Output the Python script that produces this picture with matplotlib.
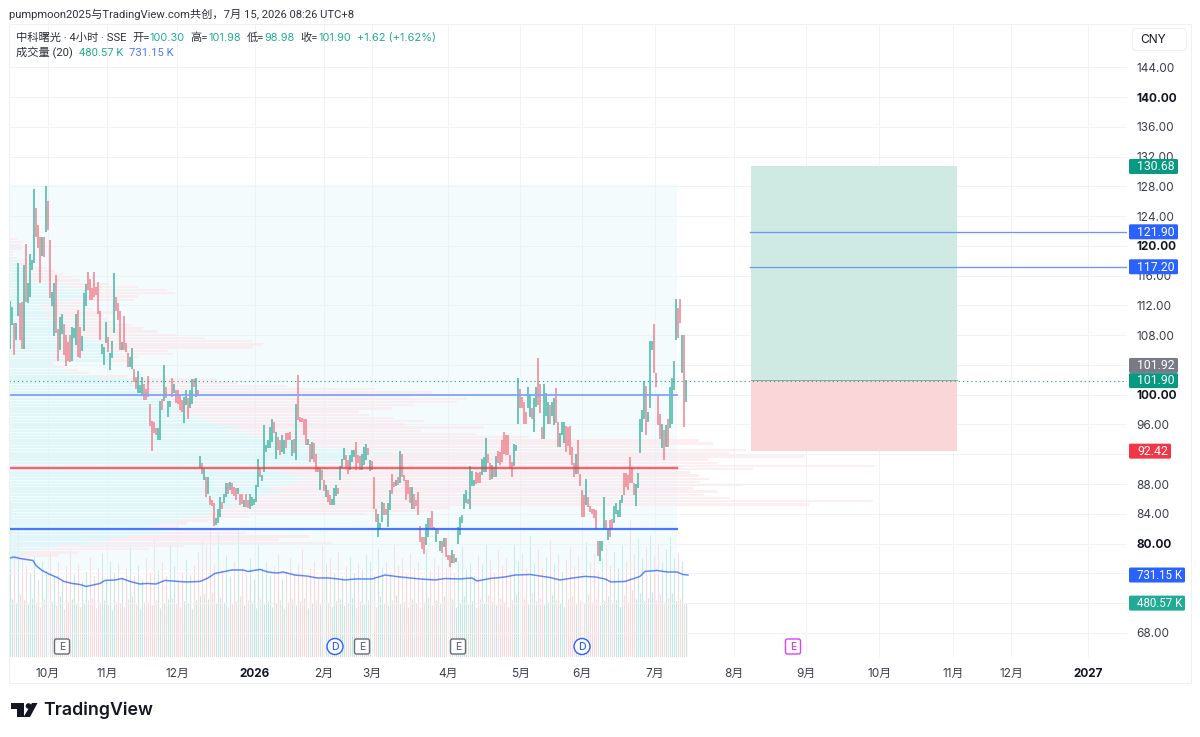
import numpy as np
import matplotlib
matplotlib.use("Agg")
import matplotlib.pyplot as plt
from matplotlib import transforms
from matplotlib.patches import Rectangle, Polygon, Circle, FancyBboxPatch

plt.rcParams['font.family'] = ['Inter', 'Noto Sans CJK SC', 'DejaVu Sans']
text_font = ['Roboto', 'Noto Sans CJK SC', 'DejaVu Sans']

# 4h candles, oldest first
bar_high = [
    112.6, 111.8, 109.6, 109.6, 117.7, 112.3, 112.4, 117.4, 120.3,
    115.0, 118.9, 118.1, 127.6, 125.1, 122.8, 121.2, 121.2, 121.2,
    128.0, 126.0, 120.8, 113.8, 115.0, 116.1, 108.8, 110.5, 110.8,
    109.5, 108.0, 107.1, 108.0, 109.1, 109.0, 110.9, 111.4, 109.1,
    107.9, 113.7, 114.9, 116.5, 115.6, 114.3, 116.5, 114.5, 115.2,
    111.2, 106.8, 106.4, 109.8, 107.8, 105.6, 107.2, 116.4,
    113.2, 112.3, 111.2, 107.1, 110.6, 106.9, 105.6, 105.1, 106.3,
    103.4, 102.4, 103.2, 101.3, 102.4, 101.4, 100.8, 102.5, 98.8,
    96.5, 96.4, 95.5, 95.5, 99.2, 99.4, 104.0, 101.0, 99.2, 99.2,
    102.2, 101.5, 100.6, 100.6, 100.0, 99.3, 99.7, 100.6, 99.5, 100.6,
    102.1, 102.1, 102.2, 100.7, 91.7, 90.8, 90.1, 89.0, 88.9, 86.4,
    85.9, 85.5, 83.4, 84.7, 86.3, 85.6, 86.7, 88.1, 88.2, 88.3,
    88.1, 87.6, 87.4, 87.4, 86.6, 86.6, 85.8, 86.6, 85.8, 86.7, 86.2,
    86.0, 87.9, 91.3, 90.1, 89.2, 95.9, 93.2, 93.9, 95.6, 96.8,
    96.4, 95.0, 94.3, 93.9, 94.6, 93.9, 94.8, 94.8, 95.0, 93.9, 94.0,
    98.7, 102.6, 97.0, 96.9, 96.8, 96.8, 94.1, 93.4, 93.6, 93.5,
    92.1, 90.3, 90.1, 89.9, 88.5, 87.9, 87.2, 86.5, 86.0, 87.4, 87.9,
    87.4, 90.4, 91.4, 92.9, 91.9, 91.2, 91.9, 92.6, 92.6, 93.7,
    91.9, 91.7, 92.1, 93.0, 93.4, 92.9, 91.2, 91.1, 88.9, 84.7,
    84.0, 82.8, 85.6, 85.4, 84.7, 85.4, 87.2, 89.4, 88.3, 88.5, 89.0,
    92.5, 92.0, 89.2, 88.5, 88.5, 87.6, 87.6, 86.7, 85.8, 86.9,
    82.4, 80.9, 80.9, 82.6, 83.4, 83.4, 84.4, 82.2, 82.0, 81.8, 80.4,
    80.4, 80.7, 80.7, 78.4, 78.4, 79.1, 78.6, 78.1, 82.2, 83.6,
    83.8, 86.7, 87.2, 86.0, 90.4, 89.8, 88.5, 89.6, 89.5, 89.6, 91.4,
    91.6, 94.2, 92.0, 90.8, 90.5, 90.3, 91.7, 92.5, 92.3, 93.9, 95.0,
    94.6, 94.6, 91.9, 91.0, 93.4, 93.2, 102.2, 100.8, 99.7, 99.0,
    97.7, 101.0, 100.0, 98.2, 99.5, 101.0, 105.0, 101.5, 95.6, 101.5, 100.2,
    99.0, 98.6, 99.0, 99.5, 100.9, 96.4, 94.8, 96.4, 96.4, 95.8, 95.6,
    95.8, 93.0, 90.8, 92.1, 93.9, 89.4, 87.2, 86.5, 88.7, 86.3,
    85.1, 84.7, 84.6, 84.5, 80.4, 80.4, 80.4, 86.3, 83.1, 82.0, 83.1,
    83.3, 85.1, 85.5, 84.5, 85.8, 86.5, 89.5, 89.5, 89.2, 91.6, 90.2,
    88.1, 88.0, 89.5, 96.7, 97.9, 101.9, 101.2, 97.7, 107.2, 107.2,
    109.5, 102.9, 100.0, 97.4, 96.1, 95.2, 95.9, 96.7,
    101.0, 102.2, 104.6, 112.9, 111.6, 112.9, 108.0, 108.0, 101.98,
]
bar_low = [
    106.2, 109.4, 105.3, 107.4, 110.6, 107.4, 106.2, 106.1, 112.5,
    112.3, 113.2, 116.8, 117.7, 121.2, 119.7, 115.0, 118.6, 118.5,
    121.9, 122.1, 113.0, 111.9, 107.9, 108.3, 104.6, 106.0, 108.2,
    105.3, 103.8, 104.6, 104.4, 104.6, 107.6, 106.7, 105.1, 104.9,
    105.9, 108.5, 111.9, 114.1, 112.8, 112.8, 113.2, 113.4, 110.9,
    107.3, 105.5, 104.0, 106.9, 105.8, 103.3, 104.9, 108.3,
    111.2, 110.0, 106.0, 106.0, 106.0, 105.8, 103.7, 103.7, 103.5,
    101.7, 100.8, 100.2, 100.2, 99.9, 99.3, 99.3, 99.7, 95.8,
    92.5, 94.8, 94.6, 93.9, 93.9, 98.0, 99.2, 99.5, 97.0, 98.4,
    99.7, 100.2, 98.9, 98.8, 98.0, 97.7, 96.2, 98.6, 96.8, 98.2,
    98.8, 101.1, 99.7, 99.9, 90.2, 89.4, 88.5, 86.2, 86.7, 85.2,
    85.0, 82.3, 82.5, 82.7, 83.6, 84.7, 85.4, 86.3, 86.7, 87.2,
    86.7, 86.4, 85.8, 86.7, 85.2, 85.3, 84.9, 84.9, 84.8, 84.6, 85.0,
    85.2, 85.6, 87.6, 88.9, 88.4, 89.6, 92.3, 92.8, 92.8, 93.7,
    94.8, 91.4, 92.6, 91.9, 92.3, 92.1, 92.8, 93.9, 93.9, 91.7, 92.2,
    91.2, 96.6, 96.4, 96.4, 94.6, 93.2, 93.2, 91.0, 91.4, 91.0,
    89.6, 89.6, 87.2, 88.5, 87.0, 86.3, 85.6, 85.2, 85.2, 85.2, 86.4,
    86.7, 88.6, 90.1, 91.2, 90.1, 89.4, 89.9, 91.0, 91.6, 89.9,
    90.8, 89.9, 89.9, 90.5, 91.2, 91.9, 89.8, 89.9, 84.7, 82.9,
    80.9, 82.0, 82.9, 83.8, 83.8, 82.2, 84.5, 86.7, 87.6, 87.7, 87.9,
    88.1, 89.0, 88.4, 85.8, 86.7, 85.4, 84.7, 84.7, 85.1, 83.8,
    80.2, 79.3, 78.6, 79.8, 80.9, 82.0, 81.8, 81.8, 80.2, 81.3, 79.0,
    78.7, 79.5, 78.2, 77.8, 76.9, 77.4, 77.4, 77.5, 79.9, 81.1,
    82.7, 84.6, 85.5, 85.3, 84.6, 87.8, 87.8, 88.0, 88.1, 88.2, 89.2,
    89.6, 89.6, 90.8, 88.6, 88.7, 88.9, 89.0, 90.8, 90.5, 91.0, 92.1,
    91.9, 91.9, 90.2, 89.0, 90.4, 92.5, 96.1, 98.2, 98.2, 96.1,
    96.0, 98.2, 97.0, 96.8, 95.0, 98.4, 98.6, 97.5, 94.1, 94.0, 97.1,
    96.1, 96.1, 97.2, 95.9, 96.2, 93.0, 93.0, 94.6, 93.5, 92.3, 93.1,
    91.9, 90.5, 89.0, 89.4, 89.4, 87.8, 83.6, 83.6, 85.2, 84.9,
    84.3, 84.0, 83.4, 82.0, 78.3, 77.7, 79.0, 82.0, 82.0, 80.5, 80.9,
    82.0, 82.7, 84.0, 83.6, 83.6, 85.4, 86.5, 87.6, 87.2, 88.1, 88.2,
    86.5, 85.0, 87.5, 92.2, 95.0, 96.8, 94.6, 96.4, 98.2, 106.0,
    102.9, 101.0, 95.9, 94.1, 92.8, 91.2, 93.0, 93.0,
    95.5, 96.1, 100.6, 107.4, 107.6, 109.6, 102.9, 95.7, 98.98,
]
bar_dir = (
    "GGRGGRRGR" "GGGGRRRGR" "GRRGGRRGG" "RRRRGGGRR" "GGGRRRRRR"
    "RGGGRGGG" "RRRGRRRGG" "RRGGGRRRR" "RRRGGRGRGG" "RGRRRRGGRG"
    "GRGRGRGRGR" "RRGGGRGGRG" "RRRGRRGRRGG" "GGGRGGGGGG" "RGRRGGRRRGR"
    "GRRRRRGRGR" "RRGRRGRRGGG" "RGGGRRGGGR" "RRGGGRGRRR" "GGGRRGGRRGR"
    "GRRRRRGRRR" "RRRGGRRRGRG" "RGRRRGRGGG" "GGGRGGGRRRG" "GGRRGRGRRRR"
    "RRRRGGGRRR" "RGGRGGRRRGG" "GRGGRRGGGRR" "RRRGRRRRGR" "RRRRRGGGRGR"
    "RGGGGGRRRRR" "RGGGGGRGGG" "RRRRGRGR" "GGGGRRGRG"
)

# volume per bar in thousands, the morning bar of each day runs taller
volumes = [
    1400, 520, 1040, 480, 1160, 560, 880, 510, 820, 470, 760, 530, 900, 490, 700, 450, 860, 520, 780, 480,
    940, 500, 720, 460, 850, 540, 690, 430, 810, 500, 950, 520, 740, 470, 830, 450, 680, 480, 770, 510,
    890, 530, 720, 440, 800, 490, 930, 510, 700, 460, 860, 420, 760, 500, 840, 480, 710, 450, 790, 520,
    980, 540, 730, 470, 820, 430, 690, 490, 880, 500, 750, 460, 1060, 510, 780, 440, 850, 480, 720, 520,
    1010, 530, 810, 470, 690, 450, 760, 500, 870, 480, 730, 430, 820, 510, 940, 540, 1040, 560, 1000, 520,
    1150, 570, 830, 480, 1100, 530, 780, 490, 910, 450, 720, 470, 860, 500, 1130, 540, 800, 460, 740, 510,
    880, 490, 700, 440, 1020, 520, 790, 470, 850, 500, 730, 450, 810, 480, 920, 510, 700, 430, 770, 490,
    880, 520, 740, 460, 830, 500, 960, 530, 720, 440, 790, 480, 860, 510, 710, 470, 1000, 540, 830, 490,
    880, 450, 760, 500, 940, 520, 720, 460, 810, 480, 890, 530, 750, 440, 840, 500, 780, 470, 920, 510,
    860, 490, 730, 450, 970, 540, 800, 480, 850, 460, 760, 510, 1020, 550, 820, 470, 880, 500, 740, 450,
    930, 520, 790, 480, 850, 440, 710, 490, 960, 530, 780, 460, 880, 510, 820, 470, 1040, 540, 800, 490,
    900, 520, 760, 450, 860, 480, 990, 540, 780, 470, 840, 500, 730, 440, 910, 520, 830, 480, 1010, 550,
    870, 500, 760, 460, 950, 530, 820, 490, 880, 450, 770, 510, 1020, 560, 860, 480, 930, 520, 790, 470,
    1080, 570, 840, 500, 960, 530, 790, 460, 890, 490, 1040, 550, 830, 510, 920, 480, 770, 450, 870, 520,
    980, 540, 810, 470, 900, 510, 760, 480, 1030, 560, 850, 490, 930, 520, 780, 460, 880, 500, 1010, 540,
    820, 480, 940, 510, 790, 450, 1000, 550, 860, 490, 1230, 600, 920, 520, 1060, 570, 880, 500, 980, 530,
    1090, 580, 900, 510, 1020, 560, 850, 490, 960, 530, 1070, 570, 880, 500, 940, 520, 860, 480, 480.57,
]

# volume moving average, sampled along the time offset
vol_ma_x = [
    0, 4, 10, 16, 23, 26, 32, 40, 47, 54, 62, 70, 76, 83, 90, 95, 105, 112, 120, 130, 137, 146,
    155, 168, 177, 190, 197, 205, 212, 222, 233, 238, 250, 258, 267, 273, 285, 297, 307, 318, 328,
    335, 345, 362, 375, 390, 410, 425, 435, 450, 462, 467, 480, 495, 505, 520, 540, 550, 563, 575,
    585, 595, 601, 615, 630, 635, 647, 657, 667, 673, 678,
]
vol_ma = [
    883, 892, 879, 870, 861, 816, 772, 736, 710, 674, 656, 647, 629, 642, 656, 683, 687, 700, 674,
    651, 656, 651, 683, 674, 669, 674, 700, 745, 758, 776, 776, 763, 781, 758, 749, 758, 731, 722,
    705, 705, 696, 687, 696, 696, 731, 714, 696, 687, 700, 696, 705, 678, 700, 714, 731, 736, 709,
    687, 705, 719, 714, 696, 669, 674, 719, 763, 772, 758, 758, 736, 731.15,
]

# session volume profile, rows run downward from the top price
profile_top = 122.67
profile_step = 0.43
profile_total = [
    2, 0, 0, 0, 8, 14, 11, 13, 4, 4, 8, 19, 24, 37, 46, 54, 63, 71, 100, 129,
    158, 166, 129, 125, 77, 74, 84, 104, 94, 98, 106, 123, 134, 149, 167, 196, 244, 254, 244, 159,
    164, 130, 118, 44, 56, 69, 80, 118, 208, 228, 278, 366, 423, 402, 458, 448, 406, 383, 350, 360,
    385, 415, 395, 475, 412, 467, 520, 690, 704, 650, 737, 720, 796, 699, 708, 866, 744, 681, 690, 700,
    691, 734, 684, 709, 695, 721, 864, 800, 441, 424, 356, 240, 200, 178, 170, 230, 237, 300, 270, 323,
    175, 140, 70, 50, 20,
]
profile_up = [
    0, 0, 0, 0, 1, 2, 2, 2, 1, 1, 3, 8, 12, 16, 18, 20, 22, 25, 40, 60,
    75, 80, 70, 62, 40, 30, 34, 42, 36, 40, 44, 50, 55, 58, 62, 70, 85, 92, 100, 100,
    110, 105, 100, 38, 48, 55, 62, 90, 120, 125, 130, 135, 150, 140, 160, 150, 155, 170, 165, 175,
    190, 200, 210, 230, 220, 240, 250, 290, 300, 310, 340, 380, 360, 330, 320, 300, 280, 270, 285, 300,
    290, 275, 260, 270, 255, 240, 245, 240, 220, 210, 200, 185, 170, 150, 140, 160, 150, 120, 100, 80,
    50, 30, 15, 10, 3,
]

price_ticks = [68, 72, 76, 80, 84, 88, 92, 96, 100, 104, 108, 112, 116, 120, 124, 128, 132, 136, 140, 144]
bold_prices = [80, 100, 120, 140]
covered_prices = [72, 76, 92, 104]  # these levels sit under a price tag, grid line only
time_ticks = [38, 97, 167, 245, 314, 362, 438, 510, 572, 645, 724, 796, 869, 943, 1001, 1078]
time_labels = ['10月', '11月', '12月', '2026', '2月', '3月', '4月', '5月', '6月', '7月', '8月', '9月', '10月', '11月', '12月', '2027']

last_price = 101.90
poc_price = 90.14
vah_price = 100.0
val_price = 82.0
entry_price = 101.92
target_price = 130.68
stop_price = 92.42
target_lines = [121.90, 117.20]
range_high = 128.2
range_low = 76.4

up_col = '#089981'
down_col = '#f23645'
blue = '#2962ff'


def fy(y):
    return 1 - y / 737


fig = plt.figure(figsize=(12, 7.37), dpi=100, facecolor='white')
px = 0.72  # points per pixel

vol_ax = fig.add_axes([9 / 1200, fy(657), 1118 / 1200, 633 / 737])
ax = fig.add_axes([9 / 1200, fy(657), 1118 / 1200, 633 / 737], zorder=2)
ax.patch.set_visible(False)
ax.set_xlim(-1, 1117)
vol_ax.set_xlim(-1, 1117)
ax.set_ylim(64.75, 149.83)
vol_ax.set_ylim(0, 5646)
vol_ax.axis('off')

n = len(bar_high)
bar_x = np.arange(n) * 676 / (n - 1)

# grid
ax.set_yticks(price_ticks)
ax.set_xticks(time_ticks)
ax.set_xticklabels(time_labels)
ax.grid(True, color='#f1f2f4', lw=1 * px)
ax.set_axisbelow(True)
ax.yaxis.tick_right()
ax.tick_params(axis='both', length=0, labelsize=8.5, labelcolor='#3a3e49')
ax.tick_params(axis='y', pad=7)
ax.tick_params(axis='x', pad=8)
ax.set_yticklabels(['' if p in covered_prices else '%.2f' % p for p in price_ticks])
for lab, p in zip(ax.get_yticklabels(), price_ticks):
    if p in bold_prices:
        lab.set_fontweight('bold')
        lab.set_color('#131722')
for lab in ax.get_xticklabels():
    if lab.get_text() in ('2026', '2027'):
        lab.set_fontweight('bold')
        lab.set_color('#131722')
for s in ax.spines.values():
    s.set_visible(False)

# volume bars and their average
ups = np.array([c == 'G' for c in bar_dir])
vol_cols = ['#c3e7e1' if u else '#fcd8da' for u in ups]
vol_ax.vlines(bar_x, 0, volumes, colors=vol_cols, lw=1.1 * px)
vol_to_price = (149.83 - 64.75) / 5646
ax.plot(vol_ma_x, np.array(vol_ma) * vol_to_price + 64.75, color=blue, lw=1.5 * px, alpha=0.75, zorder=4)

# profile range box
ax.add_patch(Rectangle((-1, range_low), 668, range_high - range_low, fc='#dff5fb', alpha=0.35, ec='none', zorder=1))

# volume profile rows
rows = profile_top - profile_step * np.arange(len(profile_total))
ax.barh(rows, profile_up, left=-1, height=profile_step * 0.72, color='#def6f8', alpha=0.85, zorder=1.5)
ax.barh(rows, np.array(profile_total) - np.array(profile_up), left=np.array(profile_up) - 1,
        height=profile_step * 0.72, color='#fbe6ea', alpha=0.65, zorder=1.5)

# candles
hi = np.array(bar_high)
lo = np.array(bar_low)
ax.vlines(bar_x[ups], lo[ups], hi[ups], colors='#42b5a3', lw=1.5 * px, zorder=3)
ax.vlines(bar_x[~ups], lo[~ups], hi[~ups], colors='#ef7f8c', lw=1.5 * px, zorder=3)

# profile levels
ax.plot([-1, 667], [poc_price, poc_price], color=down_col, lw=2.4 * px, alpha=0.75, zorder=4)
ax.plot([-1, 667], [vah_price, vah_price], color='#7fa2ff', lw=1.8 * px, zorder=4)
ax.plot([-1, 667], [val_price, val_price], color=blue, lw=2.2 * px, alpha=0.85, zorder=4)

# long position box and targets
ax.add_patch(Rectangle((741, entry_price), 206, target_price - entry_price, fc='#cfeae3', ec='none', zorder=2))
ax.add_patch(Rectangle((741, stop_price), 206, entry_price - stop_price, fc='#fbd6d9', ec='none', zorder=2))
ax.plot([741, 947], [entry_price, entry_price], color='#9aa5a3', lw=1 * px, zorder=2.5)
for t in target_lines:
    ax.plot([740, 1117], [t, t], color='#6f93fb', lw=1.3 * px, zorder=4)

# last price line
ax.plot([-1, 1117], [last_price, last_price], color='#26a69a', lw=1.2 * px, ls=(0, (1, 2.5)), zorder=4)

# overlay in pixel coordinates for the chart furniture
top = fig.add_axes([0, 0, 1, 1], zorder=5)
top.patch.set_visible(False)
top.set_xlim(0, 1200)
top.set_ylim(737, 0)
top.axis('off')

top.plot([9, 9, 1191, 1191, 9], [24, 683, 683, 24, 24], color='#eef0f3', lw=1 * px)
top.add_patch(FancyBboxPatch((1132.5, 28.5), 54, 22, boxstyle='round,pad=0,rounding_size=4',
                             fc='white', ec='#eef0f3', lw=1 * px))
top.text(1140, 40, 'CNY', fontsize=8.6, color='#131722', va='center')

tr = transforms.blended_transform_factory(top.transData, ax.transData)
vol_tr = transforms.blended_transform_factory(top.transData, vol_ax.transData)


def price_tag(price, text, color, right, trans=tr, shift=0, size=8.8):
    # flat tag on the price scale, shift moves it clear of a neighbouring tag
    y = trans.transform((0, price))[1]
    y = top.transData.inverted().transform((0, y))[1] + shift
    top.add_patch(FancyBboxPatch((1129, y - 7.5), right - 1129, 15, boxstyle='round,pad=0,rounding_size=1.5',
                                 fc=color, ec='none'))
    top.text(1137, y + 0.3, text, fontsize=size, color='white', va='center', family=text_font)


price_tag(target_price, '130.68', up_col, 1178)
price_tag(target_lines[0], '121.90', blue, 1178)
price_tag(target_lines[1], '117.20', blue, 1178)
price_tag(stop_price, '92.42', down_col, 1171)
price_tag(entry_price, '101.92', '#787b86', 1178, shift=-15)
price_tag(last_price, '101.90', up_col, 1178)
price_tag(731.15, '731.15 K', blue, 1185, vol_tr, size=8.3)
price_tag(480.57, '480.57 K', '#22ab94', 1185, vol_tr, size=8.3)

# header and legend
hdr = dict(fontsize=8.1, color='#2e3238', va='center', family=text_font)
grn = dict(fontsize=8.1, color='#22ab94', va='center', family=text_font)
val = dict(fontsize=7.9, color='#22ab94', va='center')
top.text(9, 14, 'pumpmoon2025与TradingView.com共创，7月 15, 2026 08:26 UTC+8', **hdr)
legend_y = 38
top.text(16, legend_y, '中科曙光 · 4小时 · SSE', **hdr)
legend_parts = [(132, '开='), (190, '高='), (247, '低='), (300, '收=')]
legend_vals = [(149, '100.30'), (208, '101.98'), (264, '98.98'), (318, '101.90'), (357, '+1.62 (+1.62%)')]
for x, s in legend_parts:
    top.text(x, legend_y, s, **hdr)
for x, s in legend_vals:
    top.text(x, legend_y, s, **val)
top.text(16, 53, '成交量 (20)', **hdr)
top.text(79, 53, '480.57 K', **grn)
top.text(129, 53, '731.15 K', fontsize=8.1, color='#4a78ff', va='center', family=text_font)

# earnings and dividend badges
for x, col in [(62, '#6a6d78'), (362, '#6a6d78'), (458, '#6a6d78'), (793, '#e040fb')]:
    top.add_patch(FancyBboxPatch((x - 7.5, 639), 15, 15, boxstyle='round,pad=0,rounding_size=2',
                                 fc='white', ec=col, lw=1.4 * px))
    top.text(x, 646.8, 'E', fontsize=7.4, color=col, ha='center', va='center', fontweight='medium')
for x in [335, 582]:
    top.add_patch(Circle((x, 646.5), 8, fc='white', ec=blue, lw=1.4 * px))
    top.text(x, 646.8, 'D', fontsize=7.6, color=blue, ha='center', va='center', fontweight='medium')

# logo mark and wordmark
top.add_patch(Polygon([(11, 703), (24, 703), (24, 717), (17, 717), (17, 709), (11, 709)], fc='#131722', ec='none'))
top.add_patch(Circle((28.5, 706), 2.8, fc='#131722', ec='none'))
top.add_patch(Polygon([(32, 703), (37.5, 703), (30, 717), (23.5, 717)], fc='#131722', ec='none'))
top.text(43, 710.5, 'TradingView', fontsize=12.8, color='#131722', va='center', fontweight='semibold')

fig.savefig('out.png', dpi=100)
